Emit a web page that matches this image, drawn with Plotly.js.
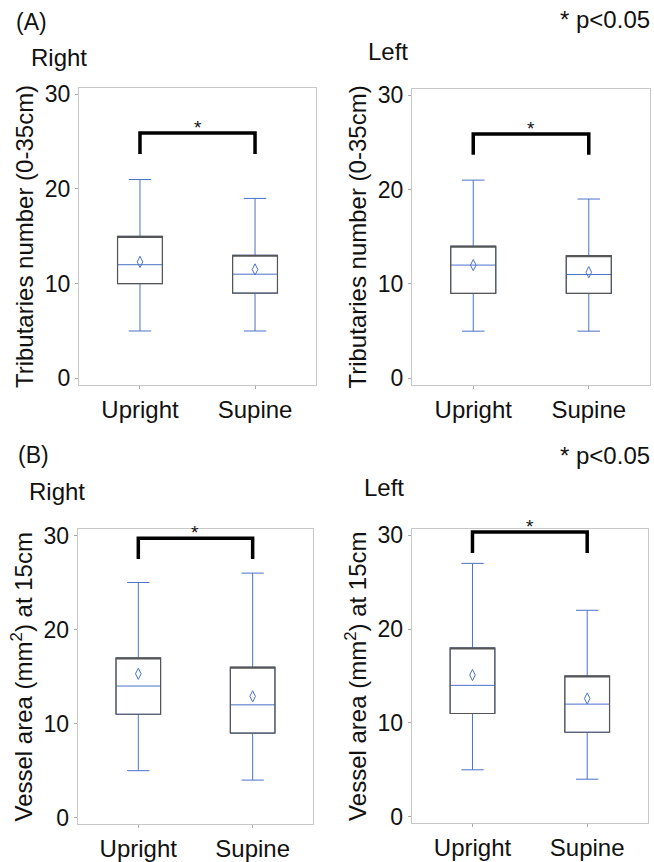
<!DOCTYPE html>
<html>
<head>
<meta charset="utf-8">
<script src="https://cdn.plot.ly/plotly-3.0.1.min.js"></script>
<style>html,body{margin:0;padding:0;background:#fff}#chart{width:654px;height:862px}</style>
</head>
<body>
<div id="chart"></div>
<script>
// ---- data ----
var categories = ['Upright', 'Supine'];

var aRightLow = [5, 5], aRightQ1 = [10, 9], aRightMed = [12, 11], aRightQ3 = [15, 13], aRightHigh = [21, 19], aRightMean = [12.3, 11.5];
var aLeftLow = [5, 5], aLeftQ1 = [9, 9], aLeftMed = [12, 11], aLeftQ3 = [14, 13], aLeftHigh = [21, 19], aLeftMean = [12.0, 11.25];
var bRightLow = [5, 4], bRightQ1 = [11, 9], bRightMed = [14, 12], bRightQ3 = [17, 16], bRightHigh = [25, 26], bRightMean = [15.3, 12.9];
var bLeftLow = [5, 4], bLeftQ1 = [11, 9], bLeftMed = [14, 12], bLeftQ3 = [18, 15], bLeftHigh = [27, 22], bLeftMean = [15.1, 12.6];

// significance brackets: [leg bottom, bar top]
var aRightBracket = [23.7, 25.9];
var aLeftBracket = [23.7, 25.9];
var bRightBracket = [27.5, 29.7];
var bLeftBracket = [28.1, 30.35];

var yTicks = [0, 10, 20, 30];
var yTitleA = 'Tributaries number (0-35cm)';
var yTitleB = 'Vessel area (mm<sup>2</sup>) at 15cm';

// ---- styles ----
var BLUE = '#4a72c8';
var GREY = '#555555';
var FONT = 'Liberation Sans, Arial, Helvetica, sans-serif';
var TXT = '#111';

var traces = [];
function panel(xa, ya, low, q1, med, q3, high, mean, bracket) {
  traces.push({
    type: 'box', xaxis: xa, yaxis: ya, x: categories,
    q1: q1, median: med, q3: q3, lowerfence: low, upperfence: high,
    width: 0.39, whiskerwidth: 0.5, fillcolor: 'rgba(0,0,0,0)',
    line: {color: BLUE, width: 1}, boxpoints: false, hoverinfo: 'skip', showlegend: false
  });
  traces.push({
    type: 'box', xaxis: xa, yaxis: ya, x: categories,
    q1: q1, median: q3, q3: q3, lowerfence: q1, upperfence: q3,
    width: 0.39, whiskerwidth: 0, fillcolor: 'rgba(0,0,0,0)',
    line: {color: GREY, width: 1.2}, boxpoints: false, hoverinfo: 'skip', showlegend: false
  });
  traces.push({
    type: 'scatter', mode: 'markers', xaxis: xa, yaxis: ya, x: categories, y: mean,
    marker: {symbol: 'diamond-tall-open', size: 8, color: BLUE, line: {width: 1, color: BLUE}},
    hoverinfo: 'skip', showlegend: false
  });
  traces.push({
    type: 'scatter', mode: 'lines', xaxis: xa, yaxis: ya,
    x: [categories[0], categories[0], categories[1], categories[1]],
    y: [bracket[0], bracket[1], bracket[1], bracket[0]],
    line: {color: '#000', width: 3.5}, cliponaxis: false,
    hoverinfo: 'skip', showlegend: false
  });
}
panel('x', 'y', aRightLow, aRightQ1, aRightMed, aRightQ3, aRightHigh, aRightMean, aRightBracket);
panel('x2', 'y2', aLeftLow, aLeftQ1, aLeftMed, aLeftQ3, aLeftHigh, aLeftMean, aLeftBracket);
panel('x3', 'y3', bRightLow, bRightQ1, bRightMed, bRightQ3, bRightHigh, bRightMean, bRightBracket);
panel('x4', 'y4', bLeftLow, bLeftQ1, bLeftMed, bLeftQ3, bLeftHigh, bLeftMean, bLeftBracket);

function xax(domain, anchor) {
  return {
    domain: domain, anchor: anchor, type: 'category', range: [-0.53, 1.53],
    showline: true, mirror: true, linecolor: '#c8c8c8', linewidth: 1,
    ticks: 'outside', ticklen: 3, tickcolor: '#aaa', showgrid: false, zeroline: false,
    tickfont: {size: 24, color: TXT, family: FONT}, fixedrange: true
  };
}
function yax(domain, anchor, title) {
  return {
    domain: domain, anchor: anchor, range: [-0.7, 30.66], tickvals: yTicks,
    showline: true, mirror: true, linecolor: '#c8c8c8', linewidth: 1,
    ticks: 'outside', ticklen: 3, tickcolor: '#aaa', showgrid: false, zeroline: false,
    tickfont: {size: 23, color: TXT, family: FONT}, fixedrange: true,
    title: {text: title, font: {size: 24, color: TXT, family: FONT}, standoff: 4}
  };
}

function ann(text, xpx, ypx, size, anchor) {
  return {text: text, xref: 'paper', yref: 'paper', x: xpx / 654, y: 1 - ypx / 862,
    xanchor: anchor || 'left', yanchor: 'middle', showarrow: false,
    font: {size: size, color: TXT, family: FONT}};
}
function star(xa, ya, yv) {
  return {text: '*', xref: xa, yref: ya, x: 0.5, y: yv, xanchor: 'center', yanchor: 'bottom',
    showarrow: false, font: {size: 19, color: TXT, family: FONT}, yshift: -7};
}

var layout = {
  width: 654, height: 862, margin: {l: 0, r: 0, t: 0, b: 0},
  paper_bgcolor: '#fff', plot_bgcolor: '#fff', showlegend: false, boxmode: 'overlay',
  font: {family: FONT},
  xaxis: xax([0.1208, 0.4832], 'y'),
  yaxis: yax([0.5534, 0.8979], 'x', yTitleA),
  xaxis2: xax([0.6300, 0.9939], 'y2'),
  yaxis2: yax([0.5534, 0.8968], 'x2', yTitleA),
  xaxis3: xax([0.1188, 0.4790], 'y3'),
  yaxis3: yax([0.0437, 0.3860], 'x3', yTitleB),
  xaxis4: xax([0.6295, 0.9908], 'y4'),
  yaxis4: yax([0.0449, 0.3863], 'x4', yTitleB),
  annotations: [
    ann('(A)', 14, 22, 23),
    ann('Right', 29, 57, 24),
    ann('Left', 366, 51, 24),
    ann('* p<0.05', 652, 19, 24, 'right'),
    ann('(B)', 16, 455, 23),
    ann('Right', 27, 492, 24),
    ann('Left', 362, 487, 24),
    ann('* p<0.05', 652, 455, 24, 'right'),
    star('x', 'y', aRightBracket[1]),
    star('x2', 'y2', aLeftBracket[1]),
    star('x3', 'y3', bRightBracket[1]),
    star('x4', 'y4', bLeftBracket[1])
  ]
};

Plotly.newPlot('chart', traces, layout, {displayModeBar: false, staticPlot: true});
</script>
</body>
</html>
